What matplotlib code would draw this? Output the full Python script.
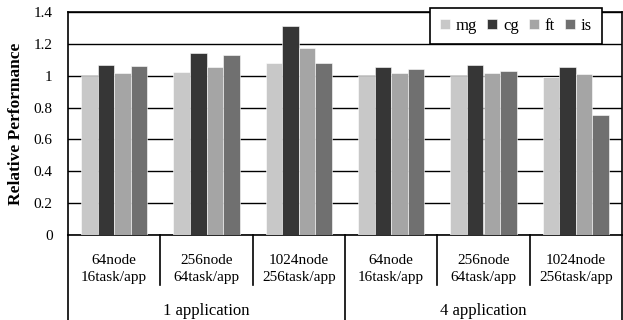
import numpy as np
import matplotlib.pyplot as plt
from matplotlib.transforms import blended_transform_factory

#-------------------#
# Font
#-------------------#
plt.rcParams['font.family'] = 'Liberation Serif'
plt.rcParams['font.size'] = 11

#-------------------#
# Data
#-------------------#
benchmarks = ['mg', 'cg', 'ft', 'is']
colors = ['#c8c8c8', '#363636', '#a5a5a5', '#707070']
configs = ['64node\n16task/app', '256node\n64task/app', '1024node\n256task/app',
           '64node\n16task/app', '256node\n64task/app', '1024node\n256task/app']
app_groups = ['1 application', '4 application']

mg = [1.00, 1.025, 1.08, 1.00, 1.00, 0.99]
cg = [1.07, 1.145, 1.31, 1.055, 1.065, 1.055]
ft = [1.02, 1.055, 1.175, 1.015, 1.015, 1.01]
is_ = [1.06, 1.13, 1.08, 1.045, 1.03, 0.753]
values = [mg, cg, ft, is_]

#-------------------#
# Plot
#-------------------#
fig = plt.figure(figsize=(6.23, 3.2), dpi=100)
W, H = 623.0, 320.0
ax = fig.add_axes([68 / W, 1 - 235 / H, 554 / W, 223 / H])

x = np.arange(len(configs))
bw = 0.18
for i, (name, vals) in enumerate(zip(benchmarks, values)):
    ax.bar(x + (i - 1.5) * bw, vals, bw, color=colors[i], edgecolor='white',
           linewidth=0.4, label=name, zorder=3)

ax.set_xlim(-0.5, len(configs) - 0.5)
ax.set_ylim(0, 1.4)
ax.set_yticks(np.arange(0, 1.41, 0.2))
ax.set_yticklabels(['0', '0.2', '0.4', '0.6', '0.8', '1', '1.2', '1.4'])
ax.yaxis.grid(True, color='black', linewidth=1.0, zorder=0)
ax.set_axisbelow(True)
ax.tick_params(axis='y', length=0, pad=11, labelsize=11)
ax.set_xticks([])
ax.set_ylabel('Relative Performance', fontweight='bold', fontsize=12.5, labelpad=7)

for side in ['left', 'right', 'bottom', 'top']:
    ax.spines[side].set_linewidth(1.2)

# category axis underneath
tr = blended_transform_factory(ax.transData, fig.transFigure)
y_sep = 1 - 285 / H
for b in [0.5, 1.5, 3.5, 4.5]:
    ax.plot([b, b], [1 - 235 / H, y_sep], color='black', lw=1.2,
            transform=tr, clip_on=False)
for b in [-0.5, 2.5, 5.5]:
    ax.plot([b, b], [1 - 235 / H, 0], color='black', lw=1.2,
            transform=tr, clip_on=False)
for xi, lab in zip(x, configs):
    ax.text(xi, 1 - 268.5 / H, lab, transform=tr, ha='center', va='center',
            linespacing=1.4, fontsize=11)
for k, lab in enumerate(app_groups):
    ax.text(1 + 3 * k, 1 - 311 / H, lab, transform=tr, ha='center', va='center',
            fontsize=12)

leg = ax.legend(ncol=4, loc='upper left', bbox_to_anchor=(0.653, 0.857, 0.311, 0.161),
                mode='expand', borderaxespad=0, frameon=True, fancybox=False,
                edgecolor='black', framealpha=1, handlelength=0.6, handleheight=0.6,
                handletextpad=0.35, columnspacing=1.0, borderpad=0.6, fontsize=12)
leg.get_frame().set_linewidth(1.2)
leg.set_zorder(5)

fig.savefig('out.png', dpi=100)
